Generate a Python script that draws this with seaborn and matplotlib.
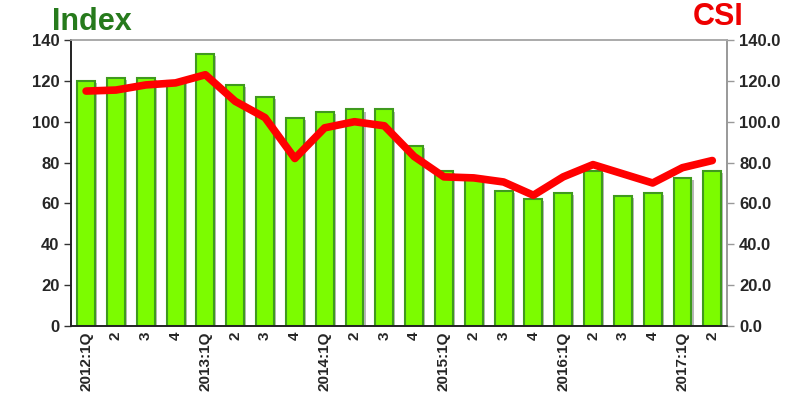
import numpy as np
import pandas as pd
import matplotlib
matplotlib.use("Agg")
import matplotlib.pyplot as plt
import matplotlib.patheffects as pe
from matplotlib.ticker import FormatStrFormatter
import seaborn as sns

sns.set_style("white")
plt.rcParams['font.family'] = ['Liberation Sans', 'DejaVu Sans']

# quarters (unique keys) and the labels shown under the bars
quarters = ['2012Q1', '2012Q2', '2012Q3', '2012Q4',
            '2013Q1', '2013Q2', '2013Q3', '2013Q4',
            '2014Q1', '2014Q2', '2014Q3', '2014Q4',
            '2015Q1', '2015Q2', '2015Q3', '2015Q4',
            '2016Q1', '2016Q2', '2016Q3', '2016Q4',
            '2017Q1', '2017Q2']
tick_labels = ['2012:1Q', '2', '3', '4',
               '2013:1Q', '2', '3', '4',
               '2014:1Q', '2', '3', '4',
               '2015:1Q', '2', '3', '4',
               '2016:1Q', '2', '3', '4',
               '2017:1Q', '2']
index_vals = [120, 121.5, 121.5, 120, 133, 118, 112, 102, 105, 106, 106, 88,
              76, 73, 66, 62, 65, 76, 63.5, 65, 72.5, 76]
csi_vals = [115, 115.5, 118, 119, 123, 110, 102, 82, 97, 100, 98, 83,
            73, 72.5, 70.5, 64, 73, 79, 74.5, 70, 77.5, 81]

df = pd.DataFrame({'quarter': quarters, 'index': index_vals, 'csi': csi_vals})

fig = plt.figure(figsize=(8, 4), dpi=100)
ax = fig.add_axes([0.089, 0.185, 0.82, 0.715])

sns.barplot(data=df, x='quarter', y='index', ax=ax, color='#7cfc00',
            width=0.6, edgecolor='#3f9a1e', linewidth=1.5, saturation=1)
for bar in ax.patches:
    bar.set_path_effects([pe.SimplePatchShadow(offset=(1.5, -1.5), shadow_rgbFace='#888888', alpha=0.6),
                          pe.Normal()])

ax.set_ylim(0, 140)
ax.set_yticks(np.arange(0, 141, 20))
ax.set_xlim(-0.5, len(quarters) - 0.5)
ax.set_xlabel('')
ax.set_ylabel('')
ax.set_xticks(range(len(quarters)))
ax.set_xticklabels(tick_labels, rotation=90, fontsize=11, fontweight='bold')
ax.set_xticks(np.arange(-0.5, len(quarters), 1), minor=True)
ax.tick_params(axis='x', which='major', length=0, pad=4)
ax.tick_params(axis='x', which='minor', length=5, width=1, color='#333333', direction='out')
ax.tick_params(axis='y', length=5, width=1, color='#333333', direction='out', labelsize=12)
for lab in ax.get_yticklabels():
    lab.set_fontweight('bold')

ax2 = ax.twinx()
sns.lineplot(x=np.arange(len(quarters)), y=df['csi'], ax=ax2, color='#ff0000',
             linewidth=5.5, solid_joinstyle='round', solid_capstyle='round')
ax2.set_ylim(0, 140)
ax2.set_yticks(np.arange(0, 141, 20))
ax2.yaxis.set_major_formatter(FormatStrFormatter('%.1f'))
ax2.set_ylabel('')
ax2.tick_params(axis='y', length=5, width=1, color='#999999', direction='out', labelsize=12)
for lab in ax2.get_yticklabels():
    lab.set_fontweight('bold')

for a in (ax, ax2):
    a.spines['left'].set_color('#222222')
    a.spines['bottom'].set_color('#222222')
    a.spines['top'].set_color('#aaaaaa')
    a.spines['right'].set_color('#999999')
    for s in a.spines.values():
        s.set_linewidth(1.2)
        s.set_visible(True)

fig.text(0.065, 0.925, 'Index', fontsize=22, fontweight='bold', color='#267a1c', ha='left', va='baseline')
fig.text(0.866, 0.938, 'CSI', fontsize=22, fontweight='bold', color='#ee0000', ha='left', va='baseline')

fig.savefig('out.png', dpi=100)
